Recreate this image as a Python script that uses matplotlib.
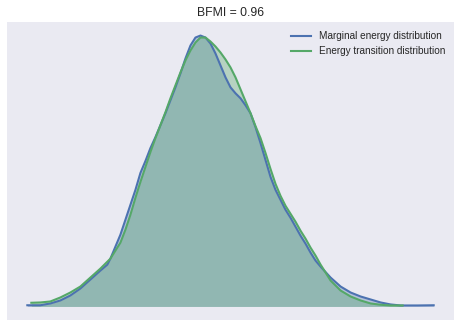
import matplotlib
matplotlib.use("Agg")
import matplotlib.pyplot as plt
import numpy as np

plt.rcParams['font.family'] = ['Liberation Sans', 'DejaVu Sans']

title = "BFMI = 0.96"
labels = ["Marginal energy distribution", "Energy transition distribution"]

marginal_energy = [-8.65, -8.0, -7.5, -7.0, -6.5, -6.0, -5.5, -5.0, -4.65, -4.5, -4.25, -4.0,
                   -3.75, -3.5, -3.25, -3.0, -2.75, -2.5, -2.25, -2.0, -1.75, -1.5, -1.25, -1.0,
                   -0.75, -0.5, -0.25, 0.0, 0.25, 0.5, 0.75, 1.0, 1.25, 1.5, 1.75, 2.0, 2.25, 2.5,
                   2.75, 3.0, 3.25, 3.5, 3.75, 4.0, 4.25, 4.5, 4.75, 5.0, 5.25, 5.5, 5.75, 6.0,
                   6.5, 7.0, 7.5, 8.0, 8.5, 9.0, 9.5, 10.0, 10.85, 11.65]
marginal_density = [0.0012, 0.0012, 0.003, 0.006, 0.011, 0.018, 0.027, 0.036, 0.042, 0.048, 0.060, 0.072,
                    0.087, 0.102, 0.117, 0.134, 0.146, 0.159, 0.170, 0.182, 0.194, 0.207, 0.220, 0.234,
                    0.249, 0.262, 0.270, 0.272, 0.270, 0.264, 0.254, 0.242, 0.230, 0.220, 0.214, 0.209,
                    0.202, 0.194, 0.180, 0.164, 0.147, 0.130, 0.117, 0.107, 0.097, 0.089, 0.080, 0.071,
                    0.063, 0.054, 0.046, 0.040, 0.029, 0.020, 0.014, 0.010, 0.007, 0.004, 0.002, 0.001,
                    0.001, 0.0012]

transition_energy = [-8.45, -8.0, -7.5, -7.0, -6.5, -6.0, -5.5, -5.0, -4.5, -4.25, -4.0, -3.75,
                     -3.5, -3.25, -3.0, -2.75, -2.5, -2.25, -2.0, -1.75, -1.5, -1.25, -1.0, -0.75,
                     -0.5, -0.25, 0.0, 0.25, 0.5, 0.75, 1.0, 1.25, 1.5, 1.75, 2.0, 2.25, 2.5, 2.75,
                     3.0, 3.25, 3.5, 3.75, 4.0, 4.25, 4.5, 4.75, 5.0, 5.25, 5.5, 5.75, 6.0, 6.5,
                     7.0, 7.5, 8.0, 8.5, 9.0, 9.5, 10.1]
transition_density = [0.0037, 0.004, 0.005, 0.009, 0.014, 0.020, 0.029, 0.038, 0.048, 0.056, 0.064, 0.077,
                      0.092, 0.109, 0.125, 0.140, 0.155, 0.169, 0.182, 0.195, 0.209, 0.222, 0.235, 0.247,
                      0.257, 0.265, 0.270, 0.270, 0.266, 0.261, 0.255, 0.248, 0.240, 0.230, 0.218, 0.206,
                      0.194, 0.181, 0.169, 0.154, 0.138, 0.123, 0.111, 0.101, 0.093, 0.085, 0.076, 0.068,
                      0.059, 0.051, 0.042, 0.026, 0.016, 0.010, 0.006, 0.003, 0.0017, 0.001, 0.001]

colors = ["#4C72B0", "#55A868"]

fig = plt.figure(figsize=(4.6, 3.28), dpi=100)
ax = fig.add_axes([7/460, 1 - 320/328, 447/460, 298/328])
ax.set_facecolor("#EAEAF2")
for s in ax.spines.values():
    s.set_visible(False)

series = [(marginal_energy, marginal_density), (transition_energy, transition_density)]
for (x, y), c, lab in zip(series, colors, labels):
    ax.plot(x, y, color=c, lw=1.5, label=lab)
    ax.fill_between(x, 0, y, color=c, alpha=0.35, lw=0)

ax.set_xticks([])
ax.set_yticks([])
ax.set_title(title, fontsize=8.8, color="#262626", pad=4.3)
leg = ax.legend(loc="upper right", frameon=False, fontsize=7.2)
for t in leg.get_texts():
    t.set_color("#262626")

fig.savefig("out.png", dpi=100)
